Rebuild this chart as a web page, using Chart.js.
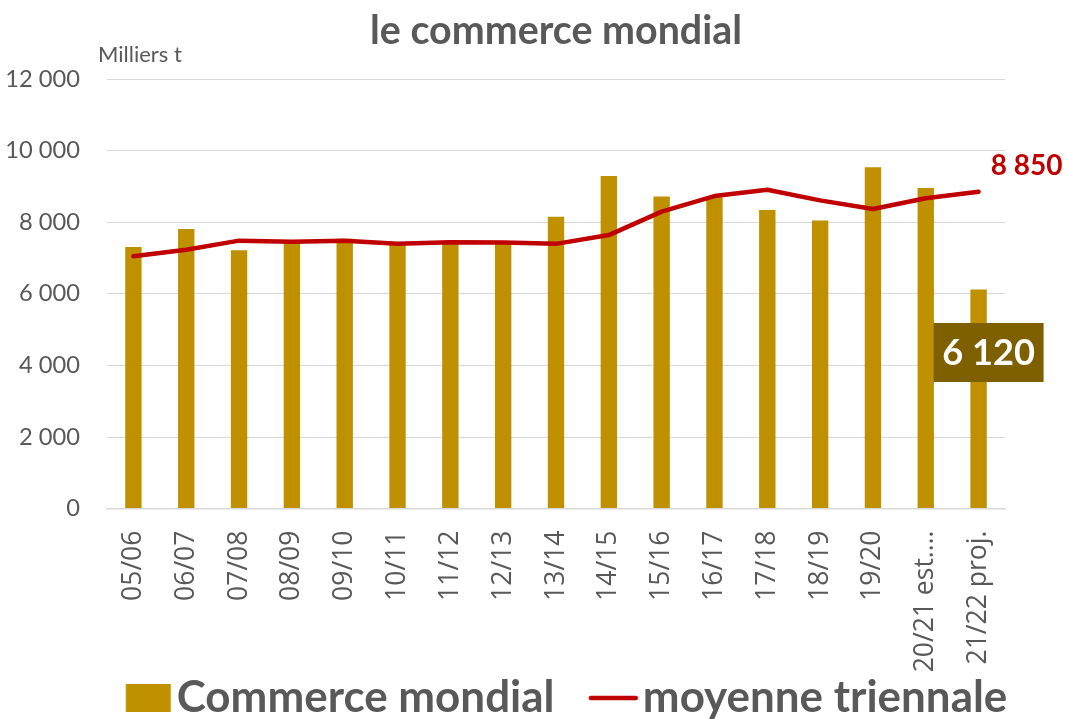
<!DOCTYPE html>
<html><head><meta charset="utf-8">
<script src="https://cdn.jsdelivr.net/npm/chart.js@4.4.0/dist/chart.umd.min.js"></script>
<style>html,body{margin:0;padding:0;background:#fff;overflow:hidden}#wrap{width:1067px;height:719px;position:relative}</style>
</head><body><div id="wrap"><canvas id="c" width="1067" height="719"></canvas></div>
<script>
// ---- data ----
const categories = ['05/06','06/07','07/08','08/09','09/10','10/11','11/12','12/13','13/14','14/15','15/16','16/17','17/18','18/19','19/20','20/21 est.…','21/22 proj.'];
const commerceMondial = [7310,7810,7215,7470,7540,7400,7430,7430,8150,9290,8715,8700,8340,8050,9535,8955,6120];
const moyenneTriennale = [7050,7230,7485,7455,7485,7400,7440,7430,7395,7640,8295,8730,8905,8610,8370,8670,8850];
const yTickValues = [0,2000,4000,6000,8000,10000,12000];
const seriesNames = ['Commerce mondial','moyenne triennale'];
const titleText = 'le commerce mondial';
const unitText = 'Milliers t';

// ---- style ----
const GOLD = '#BF9000', RED = '#C00000', DARK = '#7F6000', TXT = '#595959', GRID = '#D9D9D9';
const FAM = 'Lato';
const XFAM = '"Open Sans"';
const fmt = v => String(Math.round(v)).replace(/\B(?=(\d{3})+(?!\d))/g, ' ');

const mctx = document.createElement('canvas').getContext('2d');
function measure(text, weight, size, fam){ mctx.font = weight + ' ' + size + 'px ' + (fam || FAM); return mctx.measureText(text).width; }
function fitSize(text, weight, target, fam){ return Math.floor(100 * target / measure(text, weight, 100, fam) * 10) / 10; }

const titleSize = fitSize(titleText, 'bold', 373);
const legendSize = (fitSize(seriesNames[0], 'bold', 377) + fitSize(seriesNames[1], 'bold', 366)) / 2;
const yTickSize = fitSize('10 000', 'normal', 75);
const xTickSize = Math.min(fitSize('05/06', 'normal', 75, XFAM), fitSize('21/22 proj.', 'normal', 139, XFAM), fitSize('20/21 est.…', 'normal', 142, XFAM));
const unitSize = fitSize(unitText, 'normal', 84);
const redLabelSize = fitSize('8 850', 'bold', 72);
const boxLabelSize = fitSize('6 120', 'bold', 93);

// chart area targets
const AREA_TOP = 79, AREA_BOTTOM = 508.6, AREA_LEFT = 107, AREA_RIGHT = 1005;

// legend geometry (invisible spacer item, then the two series)
const pad = 3, h = legendSize / 2;
const T1 = measure(seriesNames[0], 'bold', legendSize);
const Q = (4564 - 6 * T1) / 26;
const P = Q - pad - h;
const W = Math.ceil(2 * Math.max(P / 2 - (P + h - 56), (P + h - 2) - P / 2) + 2);
const imgLeftRel = P / 2 - W / 2;
const IH = 30;
function makeImg(kind){
  const c = document.createElement('canvas'); c.width = W; c.height = IH;
  const g = c.getContext('2d');
  if (kind === 'bar') {
    const a = (P + h - 51) - imgLeftRel;
    g.fillStyle = GOLD; g.fillRect(a, IH/2 - 14, 45, 28);
  } else if (kind === 'line') {
    const a = (P + h - 52) - imgLeftRel, b = (P + h - 7) - imgLeftRel;
    g.strokeStyle = RED; g.lineWidth = 4.5; g.lineCap = 'round';
    g.beginPath(); g.moveTo(a, IH/2); g.lineTo(b, IH/2); g.stroke();
  }
  return c;
}
const imgBlank = makeImg('blank'), imgBar = makeImg('bar'), imgLine = makeImg('line');
const legendTop = 698 - pad - h;

const titleLH = titleSize * 1.2;
const titlePadTop = 31 - titleLH / 2;
const titlePadBottom = AREA_TOP - titlePadTop - titleLH;

const extraText = {
  id: 'extraText',
  afterDatasetsDraw(chart){
    const ctx = chart.ctx;
    ctx.save();
    ctx.fillStyle = TXT; ctx.font = 'normal ' + unitSize + 'px ' + FAM;
    ctx.textAlign = 'left'; ctx.textBaseline = 'alphabetic';
    ctx.fillText(unitText, chart.chartArea.left - 9, chart.chartArea.top - 17.3);
    const lm = chart.getDatasetMeta(1); const lp = lm.data[lm.data.length - 1];
    ctx.fillStyle = RED; ctx.font = 'bold ' + redLabelSize + 'px ' + FAM;
    ctx.textAlign = 'center'; ctx.textBaseline = 'middle';
    ctx.fillText(fmt(moyenneTriennale[moyenneTriennale.length - 1]), lp.x + 48, lp.y - 26);
    const bm = chart.getDatasetMeta(0); const bp = bm.data[bm.data.length - 1];
    const cx = bp.x + 10, cy = bp.y + 63;
    ctx.fillStyle = DARK; ctx.fillRect(cx - 55, cy - 29.5, 110, 59);
    ctx.fillStyle = '#FFFFFF'; ctx.font = 'bold ' + boxLabelSize + 'px ' + FAM;
    ctx.fillText(fmt(commerceMondial[commerceMondial.length - 1]), cx, cy + 1);
    ctx.restore();
  }
};

new Chart(document.getElementById('c'), {
  type: 'bar',
  data: {
    labels: categories,
    datasets: [
      { type: 'bar', label: seriesNames[0], data: commerceMondial, backgroundColor: GOLD, borderWidth: 0,
        barPercentage: 0.31, categoryPercentage: 1, order: 2, yAxisID: 'y' },
      { type: 'line', label: seriesNames[1], data: moyenneTriennale, borderColor: RED, backgroundColor: RED,
        borderWidth: 4.5, pointRadius: 0, tension: 0, fill: false, order: 1, borderCapStyle: 'round', borderJoinStyle: 'round', yAxisID: 'y' }
    ]
  },
  options: {
    responsive: false, animation: false, devicePixelRatio: 1, events: [],
    layout: { padding: { left: 0, right: 0, top: 0, bottom: 0 } },
    plugins: {
      tooltip: { enabled: false },
      title: { display: true, fullSize: false, text: titleText, color: TXT, font: { family: FAM, weight: 'bold', size: titleSize, lineHeight: 1.2 },
        padding: { top: titlePadTop, bottom: titlePadBottom } },
      legend: {
        position: 'bottom', align: 'start', maxHeight: 719 - legendTop,
        labels: {
          usePointStyle: true, pointStyleWidth: P, padding: pad, color: TXT,
          font: { family: FAM, weight: 'bold', size: legendSize },
          generateLabels: () => [
            { text: '', pointStyle: imgBlank, fillStyle: 'rgba(0,0,0,0)', strokeStyle: 'rgba(0,0,0,0)', fontColor: TXT, lineWidth: 0, hidden: false },
            { text: seriesNames[0], pointStyle: imgBar, fillStyle: GOLD, strokeStyle: GOLD, fontColor: TXT, lineWidth: 0, datasetIndex: 0, hidden: false },
            { text: seriesNames[1], pointStyle: imgLine, fillStyle: RED, strokeStyle: RED, fontColor: TXT, lineWidth: 0, datasetIndex: 1, hidden: false }
          ]
        }
      }
    },
    scales: {
      x: {
        grid: { display: false, drawTicks: false },
        border: { display: true, color: GRID, width: 1.5 },
        ticks: { color: TXT, font: { family: XFAM, size: xTickSize }, minRotation: 90, maxRotation: 90, autoSkip: false, padding: 22 },
        afterFit: s => { s.height = legendTop - AREA_BOTTOM; }
      },
      y: {
        position: 'left', min: 0, max: 12000,
        afterBuildTicks: s => { s.ticks = yTickValues.map(v => ({ value: v })); },
        grid: { color: GRID, lineWidth: 1, drawTicks: false },
        border: { display: false },
        ticks: { color: TXT, font: { family: FAM, size: yTickSize }, padding: 27, callback: v => fmt(v) },
        afterFit: s => { s.width = AREA_LEFT; }
      },
      yRight: {
        position: 'right', display: true, min: 0, max: 12000,
        grid: { display: false, drawTicks: false }, border: { display: false },
        ticks: { display: false },
        afterFit: s => { s.width = 1067 - AREA_RIGHT; }
      }
    }
  },
  plugins: [extraText]
});
</script></body></html>
